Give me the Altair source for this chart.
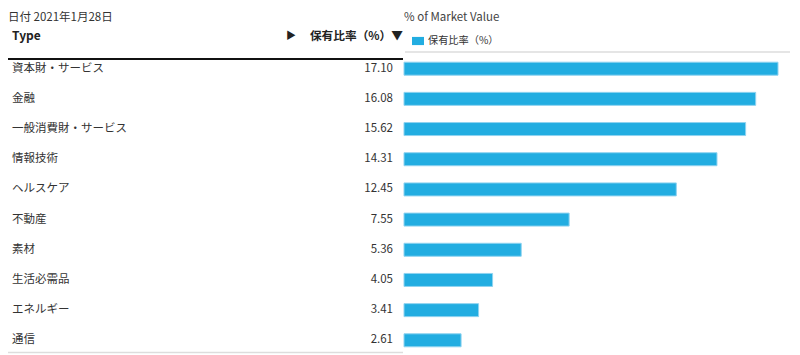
import altair as alt
import pandas as pd

# ---- data ----
types = ["資本財・サービス", "金融", "一般消費財・サービス", "情報技術", "ヘルスケア",
         "不動産", "素材", "生活必需品", "エネルギー", "通信"]
values = [17.10, 16.08, 15.62, 14.31, 12.45, 7.55, 5.36, 4.05, 3.41, 2.61]
series_name = "保有比率（%）"
date_label = "日付 2021年1月28日"
chart_title = "% of Market Value"
col_type = "Type"
col_value = "保有比率（%）▼"

FONT = "Noto Sans CJK JP"
BLUE = "#22ade1"

df = pd.DataFrame({"type": types, "value": values, "series": [series_name] * len(types)})

yenc = alt.Y("type:N", sort=types, axis=None,
             scale=alt.Scale(domain=types, range=[45.6, 347.4], paddingInner=0, paddingOuter=0))

bars = alt.Chart(df).mark_bar(size=13, stroke="#8fd3f0", strokeWidth=1).encode(
    x=alt.X("value:Q", axis=None,
            scale=alt.Scale(domain=[0, 17.10], range=[396, 770], nice=False, zero=True)),
    y=yenc,
    color=alt.Color("series:N",
                    scale=alt.Scale(domain=[series_name], range=[BLUE]),
                    legend=alt.Legend(title=None, orient="none", legendX=404, legendY=27,
                                      symbolType="M-1,-0.68H1V0.68H-1Z", symbolSize=144,
                                      symbolStrokeWidth=0, labelFontSize=10.2,
                                      labelFont=FONT, labelColor="#333",
                                      direction="horizontal", labelOffset=4, padding=0)),
)

labels = alt.Chart(df).mark_text(align="left", baseline="middle", font=FONT,
                                 fontSize=11.5, color="#333").encode(
    x=alt.value(4), y=yenc, text="type:N")

nums = alt.Chart(df).mark_text(align="right", baseline="middle", font=FONT,
                               fontSize=11.5, color="#333").encode(
    x=alt.value(385), y=yenc, text=alt.Text("value:Q", format=".2f"))


def txt(t, x, y, size=12, weight="normal", align="left", color="#333", baseline="middle"):
    return alt.Chart(pd.DataFrame({"t": [t]})).mark_text(
        align=align, baseline=baseline, font=FONT, fontSize=size,
        fontWeight=weight, color=color).encode(
        x=alt.value(x), y=alt.value(y), text="t:N")


def rule(x1, x2, y, color, w):
    return alt.Chart(pd.DataFrame({"a": [0]})).mark_rule(color=color, strokeWidth=w).encode(
        x=alt.value(x1), x2=alt.value(x2), y=alt.value(y))


headers = [
    txt(date_label, 0, 10, 11.5),
    txt(chart_title, 396, 10, 11.5, color="#444"),
    txt(col_type, 4, 28, 12, "bold", color="#222"),
    txt("▶", 278, 28, 10, color="#222"),
    txt(col_value, 395, 28, 11.7, "bold", align="right", color="#222"),
]

lines = [
    rule(0, 395, 51, "#111", 2),
    rule(397, 782, 44, "#dddddd", 1.5),
    rule(0, 395, 344.5, "#dddddd", 1.5),
]

chart = alt.layer(bars, labels, nums, *headers, *lines).properties(
    width=784, height=347, padding=0, autosize="none"
).configure_view(stroke=None)

chart.save("out.html", embed_options={"renderer": "svg", "actions": False})
